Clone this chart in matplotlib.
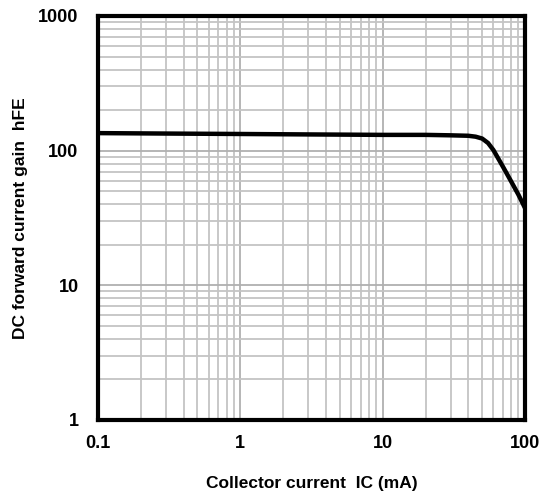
import numpy as np
import matplotlib
matplotlib.use("Agg")
import matplotlib.pyplot as plt
from matplotlib.ticker import LogLocator, FixedLocator, NullFormatter

# collector current (mA) and DC current gain
ic = [0.1, 0.3, 1, 3, 10, 20, 30, 40, 45, 50, 55, 60, 70, 80, 90, 100]
hfe = [135, 134, 133, 132, 131, 131, 130, 129, 127, 123, 114, 101, 76, 59, 47, 37.5]

x_ticks = [0.1, 1, 10, 100]
x_labels = ["0.1", "1", "10", "100"]
y_ticks = [1, 10, 100, 1000]
y_labels = ["1", "10", "100", "1000"]

plt.rcParams['font.family'] = ['Liberation Sans', 'DejaVu Sans']

fig = plt.figure(figsize=(5.42, 4.96), dpi=100)
ax = fig.add_axes([98/542, 1 - 420/496, 427/542, 404/496])

ax.set_xscale('log')
ax.set_yscale('log')
ax.set_xlim(0.1, 100)
ax.set_ylim(1, 1000)

ax.plot(ic, hfe, color='black', lw=3.2, solid_capstyle='butt', zorder=3)

ax.xaxis.set_major_locator(FixedLocator(x_ticks))
ax.yaxis.set_major_locator(FixedLocator(y_ticks))
ax.set_xticklabels(x_labels, fontsize=13, fontweight='bold')
ax.set_yticklabels(y_labels, fontsize=13, fontweight='bold')
ax.xaxis.set_minor_locator(LogLocator(base=10, subs=np.arange(2, 10)))
ax.yaxis.set_minor_locator(LogLocator(base=10, subs=np.arange(2, 10)))
ax.xaxis.set_minor_formatter(NullFormatter())
ax.yaxis.set_minor_formatter(NullFormatter())
ax.tick_params(which='both', length=0)
ax.tick_params(axis='x', pad=11)
ax.tick_params(axis='y', pad=14)

ax.grid(which='major', color='#b0b0b0', lw=1.3)
ax.grid(which='minor', color='#c4c4c4', lw=1.3)
ax.set_axisbelow(True)

for s in ax.spines.values():
    s.set_linewidth(3)
    s.set_zorder(4)

ax.set_xlabel("Collector current  IC (mA)", fontsize=12.5, fontweight='bold', labelpad=17)
ax.set_ylabel("DC forward current gain  hFE", fontsize=12.5, fontweight='bold', labelpad=7)

fig.savefig("out.png", dpi=100)
